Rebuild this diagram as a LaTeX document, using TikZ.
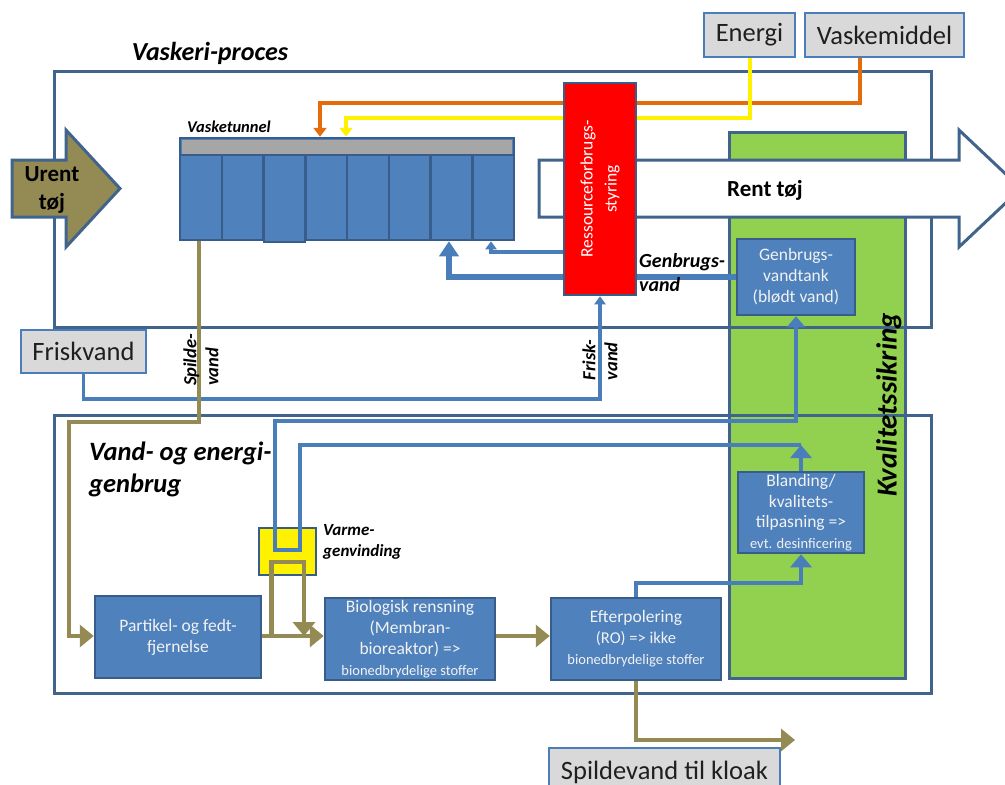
\documentclass[tikz,border=0pt]{standalone}
\usepackage{fontspec}
\setmainfont{Carlito}
\usetikzlibrary{arrows.meta,calc}
\definecolor{framecol}{HTML}{41648C}
\definecolor{boxblue}{HTML}{4F81BD}
\definecolor{boxedge}{HTML}{385D8A}
\definecolor{pipeblue}{HTML}{4A7EBB}
\definecolor{olivecol}{HTML}{948A54}
\definecolor{lgray}{HTML}{D9D9D9}
\definecolor{qgreen}{HTML}{92D050}
\definecolor{orngcol}{HTML}{E46C0A}
\definecolor{stripgray}{HTML}{A6A6A6}
\definecolor{ltext}{HTML}{F2F2F2}
\definecolor{dtext}{HTML}{1F1F1F}
\pgfdeclarelayer{front}
\pgfsetlayers{main,front}
\begin{document}
\begin{tikzpicture}[x=1pt,y=-1pt,
  frame/.style={draw=framecol, line width=3pt, inner sep=0pt},
  procbox/.style={draw=boxedge, line width=2.5pt, fill=boxblue, text=ltext, align=center, inner sep=0pt},
  graybox/.style={draw=pipeblue, line width=2pt, fill=lgray, inner sep=0pt, text=dtext, font=\fontsize{26.5}{30}\selectfont},
  bpipe/.style={draw=pipeblue, line width=4pt},
  opipe/.style={draw=olivecol, line width=4.5pt},
  tipO/.style={-{Triangle[width=22pt,length=14pt]}},
  tipB/.style={-{Triangle[width=21pt,length=13pt]}},
  tipT/.style={-{Triangle[width=18pt,length=11pt]}},
  tipBig/.style={-{Triangle[width=19pt,length=15pt]}},
  tipS/.style={-{Triangle[width=11pt,length=8pt]}},
  tipC/.style={-{Triangle[width=13pt,length=9pt]}}
]
\useasboundingbox (0,0) rectangle (1005,785);
\clip (0,0) rectangle (1005,785);
\fill[white] (0,0) rectangle (1005,785);

% resource control box (on front layer)
\begin{pgfonlayer}{front}
\node[draw=boxedge, line width=2.5pt, fill=red, minimum width=72pt, minimum height=212pt, inner sep=0pt] (ctrl) at (600,189) {};
\node[inner sep=0pt, rotate=90, align=center, text=white, font=\fontsize{17.5}{24}\selectfont] (ctrltxt) at (ctrl.center) {Ressourceforbrugs-\\styring};
\end{pgfonlayer}

% quality box (behind frames)
\node[frame, fill=qgreen, minimum width=176pt, minimum height=546pt] (qbox) at (817,405) {};

% outer frames
\node[frame, minimum width=877pt, minimum height=256pt] (proc) at (492.5,199) {};
\node[frame, minimum width=877pt, minimum height=278pt] (recyc) at (492.5,554) {};

% titles
\node[inner sep=0pt, font=\bfseries\itshape\fontsize{26}{30}\selectfont] (proctitle) at (210,53) {Vaskeri-proces};
\node[inner sep=0pt, anchor=north west, align=left, font=\bfseries\itshape\fontsize{26.5}{32}\selectfont] (rectitle) at (89,442) {Vand- og energi-\\genbrug};
\node[inner sep=0pt, rotate=90, font=\bfseries\itshape\fontsize{29}{34}\selectfont] (qtxt) at (889,405) {Kvalitetssikring};

% input boxes
\node[graybox, minimum width=91pt, minimum height=44pt] (energi) at (749.5,35) {Energi};
\node[graybox, minimum width=159pt, minimum height=44pt] (vaskm) at (884.5,35) {Vaskemiddel};
\node[graybox, minimum width=125pt, minimum height=43pt] (frisk) at (83.5,351.5) {Friskvand};
\node[graybox, minimum width=231pt, minimum height=48pt] (kloak) at (664.5,772) {Spildevand til kloak};

% wash tunnel
\node[inner sep=0pt, anchor=south west, font=\bfseries\itshape\fontsize{16.5}{19}\selectfont] (tunlbl) at (187,133) {Vasketunnel};
\node[draw=boxedge, line width=2.5pt, fill=boxblue, minimum width=334pt, minimum height=102pt, inner sep=0pt] (tunnel) at (347,189) {};
\fill[stripgray] (182,140) rectangle (512,154);
\draw[boxedge, line width=2pt] (181,154.5) -- (513,154.5);
\foreach \i in {1,...,7} \draw[boxedge, line width=2.5pt] ({180+\i*41.75},154.5) -- ({180+\i*41.75},240);
\draw[boxedge, line width=2pt, fill=boxblue] (263.5,154.5) rectangle (305.25,241.5);

% orange and yellow supply lines
\coordinate (obend) at (320,103);
\coordinate (ybend) at (346,118);
\draw[orngcol, line width=4pt, tipC] ($(vaskm.south)+(-25,0)$) |- (obend) -- (obend |- tunnel.north);
\draw[yellow, line width=4pt, tipC] (energi.south) |- (ybend) -- (ybend |- tunnel.north);

% clean laundry arrow
\draw[framecol, line width=3pt, fill=white, line join=miter] (539,160) -- (959,160) -- (959,130) -- (1021,188.5) -- (959,247) -- (959,217) -- (539,217) -- cycle;
\node[inner sep=0pt, font=\bfseries\fontsize{23}{27}\selectfont] (renttxt) at (765,190) {Rent tøj};

% dirty laundry arrow
\draw[framecol, line width=3pt, fill=olivecol, line join=miter] (12,160) -- (66,160) -- (66,130) -- (120,188.5) -- (66,247) -- (66,217) -- (12,217) -- cycle;
\node[inner sep=0pt, align=center, font=\bfseries\fontsize{23}{28}\selectfont] (urenttxt) at (52,190) {Urent\\tøj};

% tanks and process boxes
\node[procbox, minimum width=118pt, minimum height=76pt, font=\fontsize{17.5}{21}\selectfont] (tank) at (796,277) {Genbrugs-\\vandtank\\(blødt vand)};
\node[procbox, minimum width=126pt, minimum height=81pt, font=\fontsize{17.5}{20.5}\selectfont] (blanding) at (801,512.5) {Blanding/\\kvalitets-\\tilpasning =>\\{\fontsize{14.5}{18}\selectfont evt. desinficering}};
\node[draw=boxedge, line width=2pt, fill=yellow, minimum width=57pt, minimum height=47pt, inner sep=0pt] (varme) at (287.5,551.5) {};
\node[procbox, minimum width=166pt, minimum height=82pt, font=\fontsize{17.5}{21}\selectfont] (partikel) at (178,637) {Partikel- og fedt-\\fjernelse};
\node[procbox, minimum width=170pt, minimum height=82pt, font=\fontsize{17.5}{21}\selectfont] (bio) at (410,639) {Biologisk rensning\\(Membran-\\bioreaktor) =>\\{\fontsize{14.5}{18}\selectfont bionedbrydelige stoffer}};
\node[procbox, minimum width=170pt, minimum height=82pt, font=\fontsize{17.5}{21}\selectfont] (efter) at (636,639) {Efterpolering\\{\fontsize{16.5}{20}\selectfont (RO) => ikke}\\{\fontsize{14.5}{19}\selectfont bionedbrydelige stoffer}};

% blue water pipes
\coordinate (gbx) at (449,0);
\coordinate (thx) at (491,0);
\coordinate (fy) at (0,399);
\draw[pipeblue, line width=6pt, tipBig] (tank.west) -| (gbx |- tunnel.south);
\draw[pipeblue, line width=3.5pt, tipS] ($(ctrl.west)+(0,63)$) -| (thx |- tunnel.south);
\draw[pipeblue, line width=3.5pt, tipS] (frisk.south) |- (fy -| ctrl.south) -- (ctrl.south);

\coordinate (eby) at (0,583);
\coordinate (ucorner) at (801,445);
\coordinate (ux1) at (275,421);
\coordinate (ux2) at (300,550);
\draw[bpipe, tipB] (efter.north) |- (eby -| blanding.south) -- (blanding.south);
\draw[bpipe, tipB] (blanding.north) -- (ucorner);
\draw[bpipe, tipT] (ucorner) -| (ux2) -| (ux1) -| (tank.south);

% olive waste water pipes
\coordinate (sb) at (69,422);
\coordinate (lpt) at (304,562);
\coordinate (kend) at (795,740);
\coordinate (mainy) at (0,636);
\draw[opipe, tipO] ($(tunnel.south west)+(20,0)$) |- (sb) |- (mainy -| partikel.west);
\draw[opipe, tipO] (mainy -| partikel.east) -- (mainy -| bio.west);
\draw[opipe, tipO] ($(mainy -| partikel.east)+(9,0)$) |- (lpt) -- (lpt |- mainy);
\draw[opipe, tipO] (mainy -| bio.east) -- (mainy -| efter.west);
\draw[opipe, tipO] (efter.south) |- (kend);

% pipe labels
\node[inner sep=0pt, anchor=north west, align=left, font=\bfseries\itshape\fontsize{20}{24}\selectfont] (gbtxt) at (639,253) {Genbrugs-\\vand};
\node[inner sep=0pt, anchor=north west, align=left, font=\bfseries\itshape\fontsize{17}{21}\selectfont] (vgtxt) at (323,524) {Varme-\\genvinding};
\node[inner sep=0pt, rotate=90, align=left, font=\bfseries\itshape\fontsize{18.5}{22}\selectfont] (spltxt) at (201,360) {Spilde-\\vand};
\node[inner sep=0pt, rotate=90, align=left, font=\bfseries\itshape\fontsize{18.5}{22}\selectfont] (frtxt) at (600,360) {Frisk-\\vand};
\end{tikzpicture}
\end{document}
